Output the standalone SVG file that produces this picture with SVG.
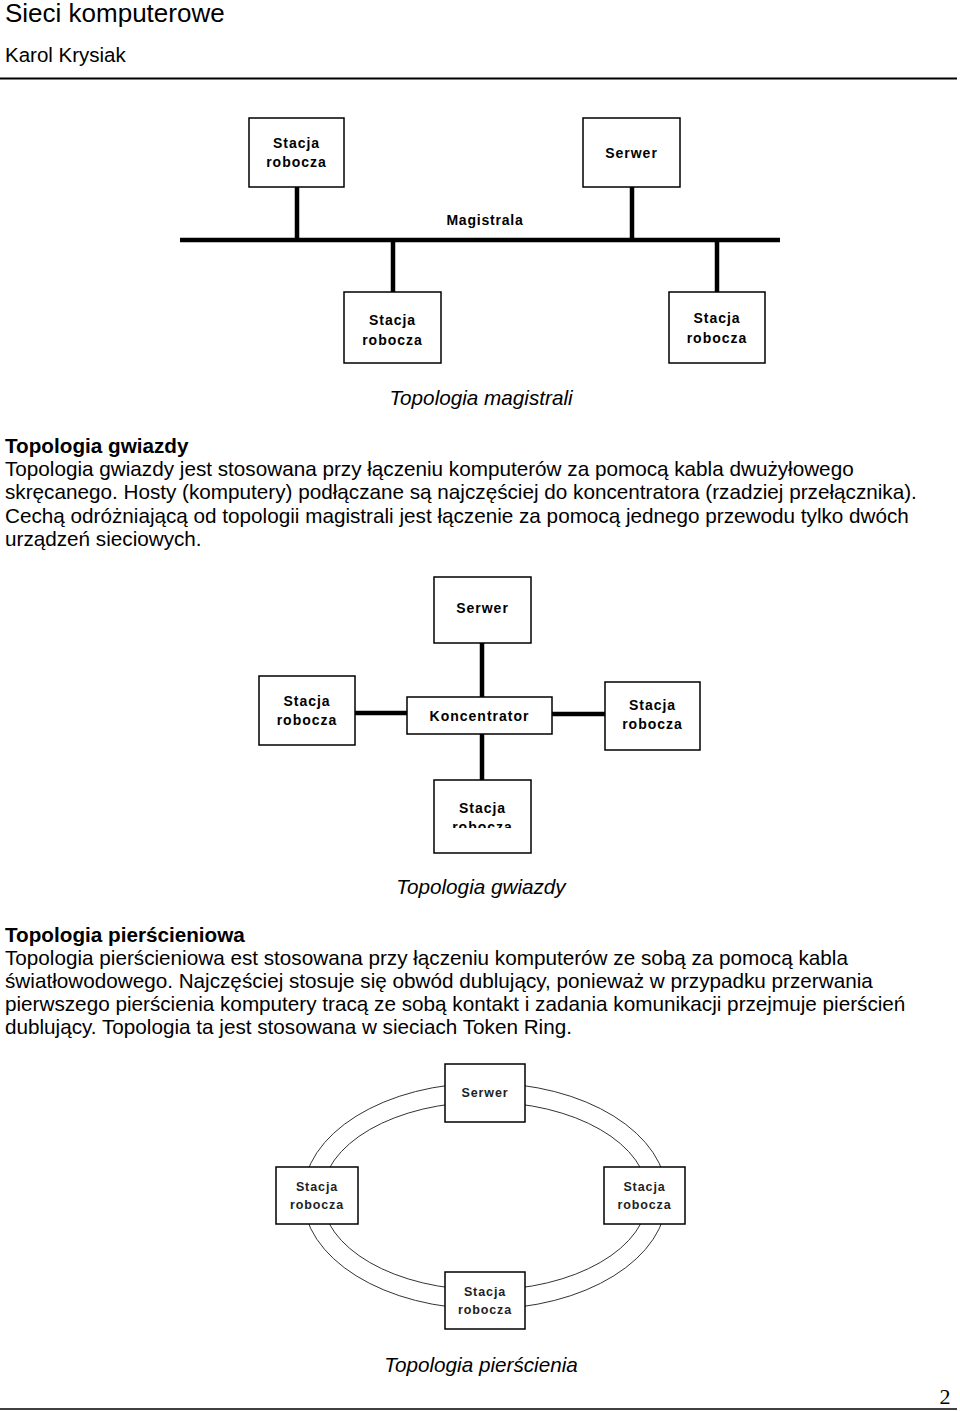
<svg xmlns="http://www.w3.org/2000/svg" width="960" height="1411" viewBox="0 0 960 1411">
<style>
.body{font-family:"Liberation Sans",Arial,sans-serif;font-size:20.7px;fill:#000}
.bold{font-weight:bold}
.cap{font-family:"Liberation Sans",Arial,sans-serif;font-size:20.7px;font-style:italic;fill:#000;text-anchor:middle}
.box{fill:#fff;stroke:#000;stroke-width:1.5}
.lbl{font-family:"Liberation Sans",Arial,sans-serif;font-size:14px;font-weight:bold;fill:#000;text-anchor:middle;letter-spacing:1px}
.lbls{font-family:"Liberation Sans",Arial,sans-serif;font-size:12.5px;font-weight:bold;fill:#222;text-anchor:middle;letter-spacing:0.9px}
.wire{stroke:#000;stroke-width:4.5;fill:none}
.ring{stroke:#333;stroke-width:1;fill:none}
</style>
<defs>
<clipPath id="clipBottom"><rect x="434" y="780" width="97" height="48"/></clipPath>
</defs>
<rect width="960" height="1411" fill="#fff"/>

<!-- header -->
<text x="5" y="22" style="font-family:'Liberation Sans',Arial,sans-serif;font-size:26px">Sieci komputerowe</text>
<text x="5" y="62" style="font-family:'Liberation Sans',Arial,sans-serif;font-size:20.5px">Karol Krysiak</text>
<line x1="0" y1="78.5" x2="957" y2="78.5" stroke="#000" stroke-width="2"/>

<!-- Bus topology -->
<g id="bus-connectors">
<line class="wire" x1="180" y1="240" x2="780" y2="240"/>
<line class="wire" x1="297" y1="187" x2="297" y2="240"/>
<line class="wire" x1="632" y1="187" x2="632" y2="240"/>
<line class="wire" x1="393" y1="240" x2="393" y2="292"/>
<line class="wire" x1="717" y1="240" x2="717" y2="292"/>
</g>
<text class="lbl" x="485" y="225" style="font-size:14px;letter-spacing:0.8px">Magistrala</text>
<g id="bus-ws1">
<rect class="box" x="249" y="118" width="95" height="69"/>
<text class="lbl" x="296.5" y="148">Stacja</text>
<text class="lbl" x="296.5" y="167">robocza</text>
</g>
<g id="bus-server">
<rect class="box" x="583" y="118" width="97" height="69"/>
<text class="lbl" x="631.5" y="158">Serwer</text>
</g>
<g id="bus-ws2">
<rect class="box" x="344" y="292" width="97" height="71"/>
<text class="lbl" x="392.5" y="325">Stacja</text>
<text class="lbl" x="392.5" y="345">robocza</text>
</g>
<g id="bus-ws3">
<rect class="box" x="669" y="292" width="96" height="71"/>
<text class="lbl" x="717" y="323">Stacja</text>
<text class="lbl" x="717" y="343">robocza</text>
</g>
<text class="cap" x="481" y="405">Topologia magistrali</text>

<!-- Star section text -->
<text class="body bold" x="5" y="453">Topologia gwiazdy</text>
<text class="body" x="5" y="476">Topologia gwiazdy jest stosowana przy łączeniu komputerów za pomocą kabla dwużyłowego</text>
<text class="body" x="5" y="499">skręcanego. Hosty (komputery) podłączane są najczęściej do koncentratora (rzadziej przełącznika).</text>
<text class="body" x="5" y="523">Cechą odróżniającą od topologii magistrali jest łączenie za pomocą jednego przewodu tylko dwóch</text>
<text class="body" x="5" y="546">urządzeń sieciowych.</text>

<!-- Star topology -->
<g id="star-connectors">
<line class="wire" x1="482" y1="643" x2="482" y2="697"/>
<line class="wire" x1="482" y1="734" x2="482" y2="780"/>
<line class="wire" x1="355" y1="713" x2="407" y2="713"/>
<line class="wire" x1="552" y1="714" x2="605" y2="714"/>
</g>
<g id="star-server">
<rect class="box" x="434" y="577" width="97" height="66"/>
<text class="lbl" x="482.5" y="613">Serwer</text>
</g>
<g id="star-hub">
<rect class="box" x="407" y="697" width="145" height="37"/>
<text class="lbl" x="479.5" y="721">Koncentrator</text>
</g>
<g id="star-ws-left">
<rect class="box" x="259" y="676" width="96" height="69"/>
<text class="lbl" x="307" y="706">Stacja</text>
<text class="lbl" x="307" y="725">robocza</text>
</g>
<g id="star-ws-right">
<rect class="box" x="605" y="682" width="95" height="68"/>
<text class="lbl" x="652.5" y="710">Stacja</text>
<text class="lbl" x="652.5" y="729">robocza</text>
</g>
<g id="star-ws-bottom">
<rect class="box" x="434" y="780" width="97" height="73"/>
<text class="lbl" x="482.5" y="813">Stacja</text>
<text class="lbl" x="482.5" y="832" clip-path="url(#clipBottom)">robocza</text>
</g>
<text class="cap" x="481" y="894">Topologia gwiazdy</text>

<!-- Ring section text -->
<text class="body bold" x="5" y="942">Topologia pierścieniowa</text>
<text class="body" x="5" y="965">Topologia pierścieniowa est stosowana przy łączeniu komputerów ze sobą za pomocą kabla</text>
<text class="body" x="5" y="988">światłowodowego. Najczęściej stosuje się obwód dublujący, ponieważ w przypadku przerwania</text>
<text class="body" x="5" y="1011">pierwszego pierścienia komputery tracą ze sobą kontakt i zadania komunikacji przejmuje pierścień</text>
<text class="body" x="5" y="1034">dublujący. Topologia ta jest stosowana w sieciach Token Ring.</text>

<!-- Ring topology -->
<g id="ring-connectors">
<ellipse class="ring" cx="485" cy="1196" rx="182" ry="113"/>
<ellipse class="ring" cx="485" cy="1196" rx="163" ry="94"/>
</g>
<g id="ring-server">
<rect class="box" x="445" y="1064" width="80" height="58"/>
<text class="lbls" x="485" y="1097">Serwer</text>
</g>
<g id="ring-ws-left">
<rect class="box" x="276" y="1167" width="82" height="57"/>
<text class="lbls" x="317" y="1191">Stacja</text>
<text class="lbls" x="317" y="1209">robocza</text>
</g>
<g id="ring-ws-right">
<rect class="box" x="604" y="1167" width="81" height="57"/>
<text class="lbls" x="644.5" y="1191">Stacja</text>
<text class="lbls" x="644.5" y="1209">robocza</text>
</g>
<g id="ring-ws-bottom">
<rect class="box" x="445" y="1272" width="80" height="57"/>
<text class="lbls" x="485" y="1296">Stacja</text>
<text class="lbls" x="485" y="1314">robocza</text>
</g>
<text class="cap" x="481" y="1372">Topologia pierścienia</text>

<!-- footer -->
<text x="945" y="1404" style="font-family:'Liberation Serif','Times New Roman',serif;font-size:22px;text-anchor:middle">2</text>
<line x1="0" y1="1409" x2="957" y2="1409" stroke="#000" stroke-width="1.5"/>
</svg>
